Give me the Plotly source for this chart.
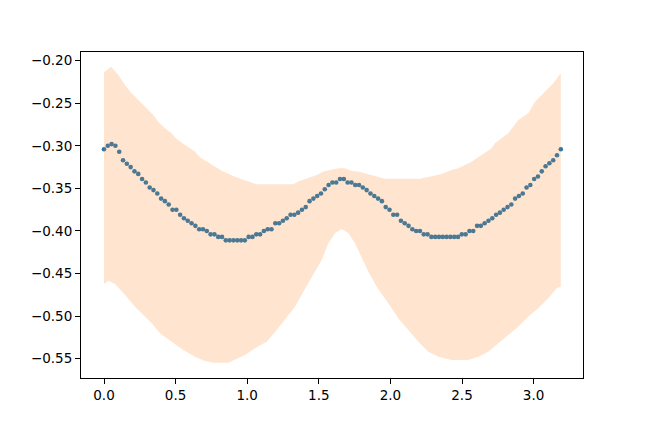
import numpy as np
import plotly.graph_objects as go

# Mean curve (121 points over 0 .. ~3.19)
x_mean = np.linspace(0.0, 3.19, 121)
y_mean = [
    -0.304, -0.300, -0.298, -0.300, -0.307, -0.317, -0.321, -0.325, -0.330, -0.333,
    -0.339, -0.343, -0.349, -0.352, -0.356, -0.362, -0.365, -0.369, -0.375, -0.375,
    -0.381, -0.385, -0.388, -0.391, -0.394, -0.398, -0.398, -0.400, -0.404, -0.404,
    -0.407, -0.407, -0.411, -0.411, -0.411, -0.411, -0.411, -0.411, -0.407, -0.407,
    -0.404, -0.404, -0.400, -0.398, -0.398, -0.391, -0.391, -0.388, -0.385, -0.381,
    -0.381, -0.3785, -0.375, -0.372, -0.365, -0.362, -0.359, -0.356, -0.351, -0.346,
    -0.343, -0.343, -0.339, -0.339, -0.343, -0.343, -0.346, -0.346, -0.349, -0.352,
    -0.356, -0.359, -0.362, -0.365, -0.372, -0.375, -0.381, -0.381, -0.388, -0.391,
    -0.394, -0.398, -0.400, -0.400, -0.404, -0.404, -0.407, -0.407, -0.407, -0.407,
    -0.407, -0.407, -0.407, -0.407, -0.404, -0.404, -0.400, -0.400, -0.394, -0.394,
    -0.391, -0.388, -0.385, -0.381, -0.3785, -0.375, -0.372, -0.369, -0.362, -0.359,
    -0.356, -0.349, -0.346, -0.339, -0.336, -0.330, -0.324, -0.3205, -0.317, -0.311,
    -0.304,
]

# Upper edge of the band
x_upper = [0.0, 0.049, 0.100, 0.147, 0.193, 0.240, 0.286, 0.344, 0.379, 0.426,
           0.472, 0.507, 0.566, 0.635, 0.670, 0.729, 0.822, 0.903, 0.961, 1.066,
           1.322, 1.357, 1.427, 1.485, 1.532, 1.636, 1.683, 1.729, 1.776, 1.881,
           1.962, 2.207, 2.265, 2.358, 2.428, 2.474, 2.567, 2.637, 2.707, 2.730,
           2.823, 2.893, 2.963, 3.010, 3.068, 3.138, 3.19]
y_upper = [-0.2137, -0.207, -0.2168, -0.2285, -0.2383, -0.2462, -0.254, -0.2638, -0.2716, -0.2794,
           -0.2853, -0.292, -0.299, -0.3068, -0.3135, -0.3198, -0.3292, -0.3354, -0.3393, -0.3452,
           -0.3452, -0.342, -0.3382, -0.3343, -0.3303, -0.3264, -0.3264, -0.3296, -0.3303, -0.3354,
           -0.3386, -0.3386, -0.3362, -0.3331, -0.3284, -0.3264, -0.3186, -0.3108, -0.3029, -0.2971,
           -0.2853, -0.2697, -0.2618, -0.2481, -0.2383, -0.2266, -0.2148]

# Lower edge of the band
x_lower = [0.0, 0.030, 0.077, 0.147, 0.216, 0.286, 0.333, 0.391, 0.472, 0.554,
           0.635, 0.705, 0.763, 0.868, 0.915, 0.985, 1.054, 1.136, 1.206, 1.264,
           1.334, 1.392, 1.450, 1.520, 1.567, 1.613, 1.660, 1.706, 1.753, 1.799,
           1.846, 1.904, 1.985, 2.055, 2.125, 2.195, 2.265, 2.335, 2.428, 2.544,
           2.614, 2.684, 2.754, 2.823, 2.893, 2.963, 3.033, 3.103, 3.161, 3.19]
y_lower = [-0.4623, -0.4584, -0.4623, -0.4752, -0.4889, -0.5006, -0.5085, -0.5202, -0.530, -0.5398,
           -0.5476, -0.5527, -0.5547, -0.5547, -0.5515, -0.5457, -0.5378, -0.530, -0.5163, -0.5046,
           -0.4889, -0.4713, -0.4537, -0.4341, -0.4145, -0.4028, -0.3977, -0.4028, -0.4145, -0.4302,
           -0.4478, -0.4654, -0.485, -0.5026, -0.5163, -0.530, -0.5418, -0.5476, -0.5515, -0.5515,
           -0.5476, -0.5418, -0.532, -0.5222, -0.5124, -0.5006, -0.4909, -0.4791, -0.4674, -0.4654]

band_x = list(x_upper) + list(x_lower[::-1])
band_y = list(y_upper) + list(y_lower[::-1])

fig = go.Figure()
fig.add_trace(go.Scatter(
    x=x_mean, y=y_mean, mode="markers",
    marker=dict(color="#1f77b4", size=4.6, line=dict(width=0)),
    showlegend=False, hoverinfo="skip",
))
fig.add_trace(go.Scatter(
    x=band_x, y=band_y, mode="lines", fill="toself",
    fillcolor="rgba(255,127,14,0.2)", line=dict(width=0, color="rgba(0,0,0,0)"),
    showlegend=False, hoverinfo="skip",
))

axis_common = dict(
    showline=True, linecolor="black", linewidth=1.1, mirror=True,
    ticks="outside", ticklen=5, tickwidth=1.1, tickcolor="black",
    showgrid=False, zeroline=False,
    tickfont=dict(family="DejaVu Sans", size=13.5, color="black"),
)

# The page body has an 8px margin, so the figure is shrunk by 8px and offsets adjusted
fig.update_layout(
    width=640, height=424,
    margin=dict(l=73, r=65, t=44, b=54),
    paper_bgcolor="white", plot_bgcolor="white",
    xaxis=dict(range=[-0.1606, 3.345], tick0=0, dtick=0.5, tickformat=".1f", **axis_common),
    yaxis=dict(range=[-0.5727, -0.1898], tick0=-0.2, dtick=0.05, tickformat=".2f", **axis_common),
)

fig.write_html("out.html")
